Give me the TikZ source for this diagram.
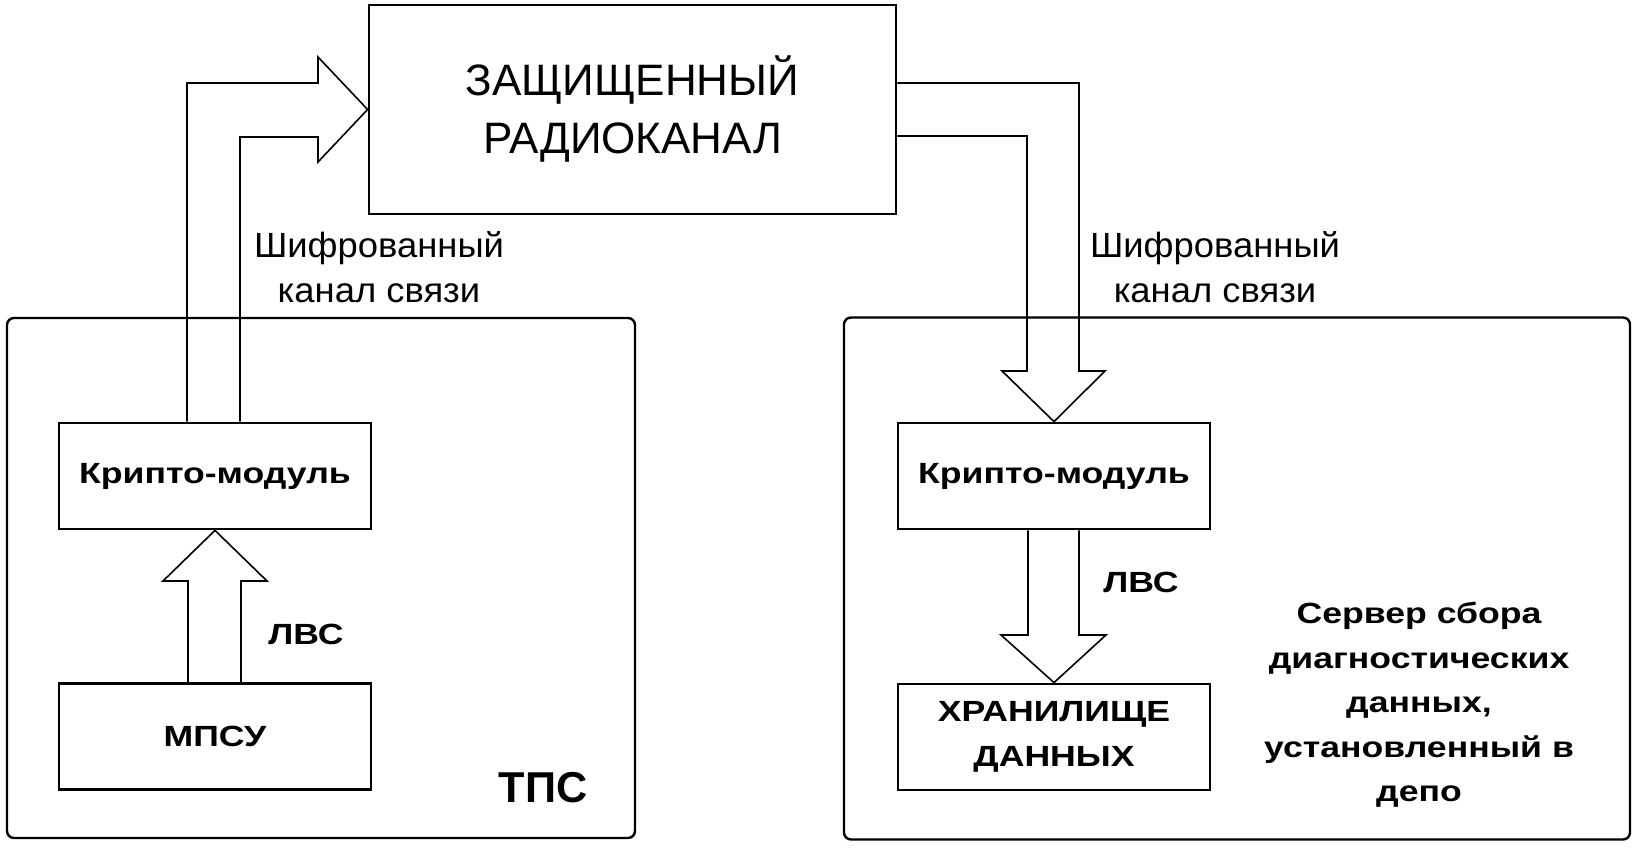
\documentclass[tikz,border=0pt]{standalone}
\usepackage{fontspec}
\setmainfont{Liberation Sans}
\newfontfamily\widefont{Liberation Sans}[FakeStretch=1.22]
\newfontfamily\regfont{Liberation Sans}[FakeStretch=1.04]
\begin{document}
\begin{tikzpicture}[x=0.5pt,y=-0.5pt,
  box/.style={draw, line width=1.4pt, inner sep=0pt, minimum width=156pt, minimum height=53pt},
  panel/.style={draw, line width=1.2pt, rounded corners=3.5pt, inner sep=0pt},
  blockarrow/.style={draw, line width=0.8pt, line join=miter},
  boldlabel/.style={inner sep=0pt, align=center, font=\widefont\bfseries\fontsize{14.6}{22.25}\selectfont},
  reglabel/.style={inner sep=0pt, align=center, font=\regfont\fontsize{17.5}{22.5}\selectfont}]
\useasboundingbox (0,0) rectangle (1637,849);

% frames
\node[panel, minimum width=314pt, minimum height=260pt] (tps) at (321,578) {};
\node[panel, minimum width=393pt, minimum height=261pt] (server) at (1237,578.5) {};

% radio channel
\node[draw, line width=1.4pt, inner sep=0pt, minimum width=263.5pt, minimum height=104.5pt,
      align=center, font=\fontsize{22}{29}\selectfont] (radio) at (632.5,109.5) {ЗАЩИЩЕННЫЙ\\РАДИОКАНАЛ};

% boxes
\node[box, boldlabel] (cryL) at (215,476) {Крипто-модуль};
\node[box, boldlabel] (mpsu) at (215,736.5) {МПСУ};
\node[box, boldlabel] (cryR) at (1054,476) {Крипто-модуль};
\node[box, boldlabel] (store) at (1054,737) {ХРАНИЛИЩЕ\\ДАННЫХ};

% block arrows
\draw[blockarrow] (187,0 |- cryL.north) -- (187,83) -- (318,83) -- (318,57) -- (radio.west)
   -- (318,162) -- (318,137) -- (240,137) -- (240,0 |- cryL.north);
\draw[blockarrow] (radio.east |- 0,83) -- (1079,83) -- (1079,371) -- (1105,371) -- (cryR.north)
   -- (1002,371) -- (1027,371) -- (1027,136) -- (radio.east |- 0,136);
\draw[blockarrow] (188,0 |- mpsu.north) -- (188,581) -- (163,581) -- (cryL.south)
   -- (267,581) -- (241,581) -- (241,0 |- mpsu.north);
\draw[blockarrow] (1028,0 |- cryR.south) -- (1028,635) -- (1001,635) -- (store.north)
   -- (1106,635) -- (1079,635) -- (1079,0 |- cryR.south);

% labels
\node[reglabel] (encL) at (379,267) {Шифрованный\\канал связи};
\node[reglabel] (encR) at (1215,267) {Шифрованный\\канал связи};
\node[boldlabel] (lvsL) at (306,634) {ЛВС};
\node[boldlabel] (lvsR) at (1141,582) {ЛВС};
\node[inner sep=0pt, font=\bfseries\fontsize{21.6}{26}\selectfont] (tpsl) at (543,788) {ТПС};
\node[boldlabel] (srvl) at (1419,705) {Сервер сбора\\диагностических\\данных,\\установленный в\\депо};
\end{tikzpicture}
\end{document}
